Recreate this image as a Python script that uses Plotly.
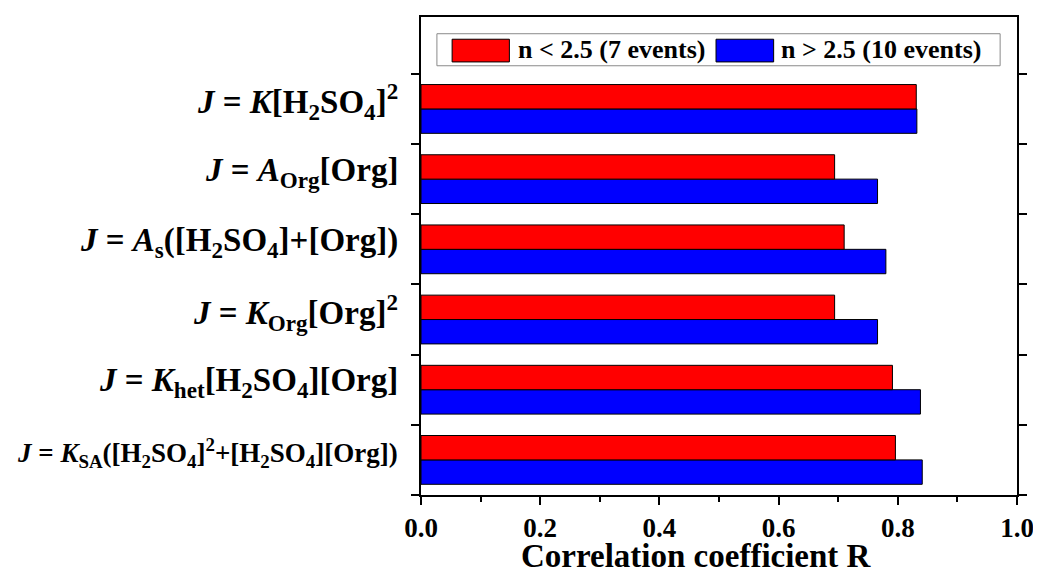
import plotly.graph_objects as go

# Data (top-to-bottom order as shown)
labels = [
    "<i>J</i> = <i>K</i>[H<sub>2</sub>SO<sub>4</sub>]<sup>2</sup>",
    "<i>J</i> = <i>A</i><sub>Org</sub>[Org]",
    "<i>J</i> = <i>A</i><sub>s</sub>([H<sub>2</sub>SO<sub>4</sub>]+[Org])",
    "<i>J</i> = <i>K</i><sub>Org</sub>[Org]<sup>2</sup>",
    "<i>J</i> = <i>K</i><sub>het</sub>[H<sub>2</sub>SO<sub>4</sub>][Org]",
    "<i>J</i> = <i>K</i><sub>SA</sub>([H<sub>2</sub>SO<sub>4</sub>]<sup>2</sup>+[H<sub>2</sub>SO<sub>4</sub>][Org])",
]
label_sizes = [33, 33, 33, 33, 33, 27]
r_low = [0.831, 0.694, 0.710, 0.694, 0.791, 0.796]    # n < 2.5
r_high = [0.832, 0.766, 0.780, 0.766, 0.838, 0.841]   # n > 2.5
series_names = ["n < 2.5 (7 events)", "n > 2.5 (10 events)"]
series_colors = ["#FF0000", "#0000FF"]
x_title = "Correlation coefficient R"

cats = [f"c{i}" for i in range(len(labels))]
order_bottom_up = cats[::-1]

FONT = "Liberation Serif, Times New Roman, serif"

fig = go.Figure()
# blue first -> lower bar in each group, red on top
fig.add_trace(go.Bar(y=cats, x=r_high, orientation="h", name=series_names[1],
                     marker=dict(color=series_colors[1], line=dict(color="#000000", width=1)),
                     showlegend=False))
fig.add_trace(go.Bar(y=cats, x=r_low, orientation="h", name=series_names[0],
                     marker=dict(color=series_colors[0], line=dict(color="#000000", width=1)),
                     showlegend=False))

annotations = []
for c, lab, fs in zip(cats, labels, label_sizes):
    annotations.append(dict(x=0, xref="paper", y=c, yref="y", text=lab, showarrow=False,
                            xanchor="right", yanchor="middle", xshift=-21, yshift=7,
                            font=dict(family=FONT, size=fs, color="black", weight="bold")))

annotations.append(dict(x=0.4625, xref="paper", y=-0.127, yref="paper", text=x_title,
                        showarrow=False, xanchor="center", yanchor="middle",
                        font=dict(family=FONT, size=33, color="black", weight="bold")))

# custom legend (box + wide swatches)
shapes = [dict(type="rect", xref="paper", yref="paper", x0=0.0267, x1=0.9717, y0=0.898, y1=0.965,
               line=dict(color="#8a8a8a", width=1), fillcolor="white", layer="above")]
sw = [(0.0522, 0.1483, 0.1595), (0.495, 0.5917, 0.6015)]
for (x0, x1, xt), name, col in zip(sw, series_names, series_colors):
    shapes.append(dict(type="rect", xref="paper", yref="paper", x0=x0, x1=x1, y0=0.906, y1=0.9535,
                       line=dict(color="#000000", width=1), fillcolor=col, layer="above"))
    annotations.append(dict(x=xt, xref="paper", y=0.931, yref="paper", text=name, showarrow=False,
                            xanchor="left", yanchor="middle",
                            font=dict(family=FONT, size=26, color="black", weight="bold")))

# page body has an 8px margin: shrink figure so the plot lands where the reference has it
fig.update_layout(
    width=1033, height=565,
    margin=dict(l=413, r=20, t=7, b=78),
    paper_bgcolor="white", plot_bgcolor="white",
    barmode="group", bargap=0.305, bargroupgap=0,
    font=dict(family=FONT, size=27, color="black", weight="bold"),
    annotations=annotations, shapes=shapes,
    showlegend=False,
)
fig.update_xaxes(range=[0, 1.0], dtick=0.2, tick0=0, tickformat=".1f",
                 ticks="outside", ticklen=8, tickwidth=1.5, tickcolor="black",
                 minor=dict(dtick=0.1, ticks="outside", ticklen=5, tickwidth=1.5, tickcolor="black"),
                 showline=True, linewidth=1.5, linecolor="black", mirror=True,
                 showgrid=False, zeroline=False,
                 tickfont=dict(family=FONT, size=27, color="black", weight="bold"))
fig.update_yaxes(type="category", categoryorder="array", categoryarray=order_bottom_up,
                 range=[-0.5, 6.31], tickson="boundaries",
                 ticks="outside", ticklen=8, tickwidth=1.5, tickcolor="black",
                 showticklabels=False, showline=True, linewidth=1.5, linecolor="black",
                 mirror="ticks", showgrid=False, zeroline=False)

fig.write_html("out.html")
